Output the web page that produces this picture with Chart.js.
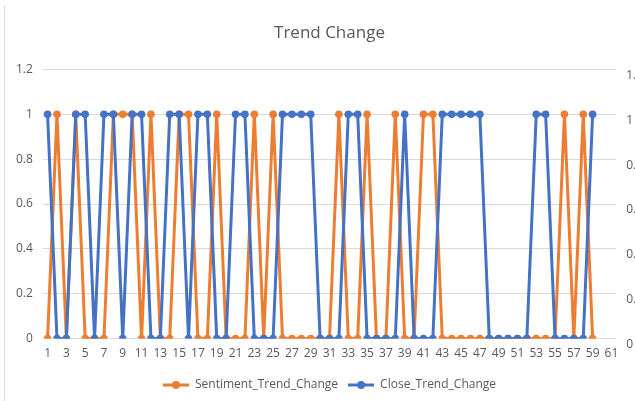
<!DOCTYPE html>
<html>
<head>
<meta charset="utf-8">
<title>Trend Change</title>
<script src="https://cdn.jsdelivr.net/npm/chart.js"></script>
<style>
    html, body {
        margin: 0;
        padding: 0;
        background: #fff;
        overflow: hidden;
        width: 635px;
        height: 401px;
    }
    .frame {
        position: absolute;
        left: 4px;
        top: 6px;
        width: 1px;
        height: 395px;
        background: #d9d9d9;
    }
    .chart-box {
        position: absolute;
        left: 0;
        top: 0;
        width: 667px;
        height: 401px;
    }
</style>
</head>
<body>
<div class="frame"></div>
<div class="chart-box"><canvas id="chartTrend"></canvas></div>

<script>
// categorias do eixo x (1..61)
const categorias = ['1','2','3','4','5','6','7','8','9','10','11','12','13','14','15','16','17','18','19','20',
    '21','22','23','24','25','26','27','28','29','30','31','32','33','34','35','36','37','38','39','40',
    '41','42','43','44','45','46','47','48','49','50','51','52','53','54','55','56','57','58','59','60','61'];

// séries (pontos 1..59)
const sentimentTrendChange = [0,1,0,1,0,0,0,1,1,1, 0,1,0,0,1,1,0,0,1,0,
    0,0,1,0,1,0,0,0,0,0, 0,1,0,0,1,0,0,1,0,0, 1,1,0,0,0,0,0,0,0,0,
    0,0,0,0,0,1,0,1,0];
const closeTrendChange = [1,0,0,1,1,0,1,1,0,1, 1,0,0,1,1,0,1,1,0,0,
    1,1,0,0,0,1,1,1,1,0, 0,0,1,1,0,0,0,0,1,0, 0,0,1,1,1,1,1,0,0,0,
    0,0,1,1,0,0,0,0,1];

const yMin = 0;
const yMax = 1.2;
const yStep = 0.2;

const corLaranja = '#ED7D31';
const corAzul = '#4472C4';
const corTexto = '#595959';
const corGrade = '#d9d9d9';
const fonte = '"Open Sans", "Noto Sans", sans-serif';

// marcador da legenda: linha com bolinha
function marcadorLegenda(cor) {
    const c = document.createElement('canvas');
    c.width = 26;
    c.height = 10;
    const ctx = c.getContext('2d');
    ctx.strokeStyle = cor;
    ctx.lineWidth = 3;
    ctx.beginPath();
    ctx.moveTo(0, 5);
    ctx.lineTo(26, 5);
    ctx.stroke();
    ctx.fillStyle = cor;
    ctx.beginPath();
    ctx.arc(13, 5, 4, 0, Math.PI * 2);
    ctx.fill();
    return c;
}

// 1.0 -> "1", 0.0 -> "0"
function formataTick(v) {
    return String(Number(v.toFixed(1)));
}

const eixoY = {
    min: yMin,
    max: yMax,
    border: { display: false },
    ticks: { stepSize: yStep, color: corTexto, padding: 10, font: { family: fonte, size: 12 }, callback: formataTick }
};

const ctx = document.getElementById('chartTrend').getContext('2d');
new Chart(ctx, {
    type: 'line',
    data: {
        labels: categorias,
        datasets: [{
            label: 'Sentiment_Trend_Change',
            data: sentimentTrendChange,
            borderColor: corLaranja,
            backgroundColor: corLaranja,
            borderWidth: 3,
            pointRadius: 3.8,
            pointBorderWidth: 0,
            pointStyle: 'circle',
            tension: 0,
            order: 2,
            yAxisID: 'y'
        }, {
            label: 'Close_Trend_Change',
            data: closeTrendChange,
            borderColor: corAzul,
            backgroundColor: corAzul,
            borderWidth: 3,
            pointRadius: 3.8,
            pointBorderWidth: 0,
            pointStyle: 'circle',
            tension: 0,
            order: 1,
            yAxisID: 'y'
        }]
    },
    options: {
        responsive: true,
        maintainAspectRatio: false,
        animation: false,
        layout: { padding: { left: 6, right: 14, top: 0, bottom: 0 } },
        plugins: {
            title: {
                display: true,
                text: 'Trend Change',
                color: corTexto,
                font: { family: fonte, size: 17, weight: 'normal' },
                padding: { top: 23, bottom: 26 }
            },
            legend: {
                position: 'bottom',
                labels: {
                    color: corTexto,
                    font: { family: fonte, size: 12 },
                    usePointStyle: true,
                    pointStyleWidth: 26,
                    padding: 10,
                    sort: (a, b) => a.datasetIndex - b.datasetIndex,
                    generateLabels: (chart) => chart.data.datasets.map((ds, i) => ({
                        text: ds.label,
                        fontColor: corTexto,
                        pointStyle: marcadorLegenda(ds.borderColor),
                        lineWidth: 0,
                        strokeStyle: 'transparent',
                        fillStyle: ds.borderColor,
                        hidden: !chart.isDatasetVisible(i),
                        datasetIndex: i
                    }))
                }
            },
            tooltip: { enabled: false }
        },
        scales: {
            x: {
                offset: true,
                grid: { display: false, drawTicks: false },
                border: { display: false },
                ticks: {
                    autoSkip: false,
                    maxRotation: 0,
                    color: corTexto,
                    padding: 8,
                    font: { family: fonte, size: 12 },
                    callback: function (v, i) { return i % 2 === 0 ? categorias[i] : ''; }
                }
            },
            y: Object.assign({}, eixoY, {
                position: 'left',
                grid: { color: corGrade, lineWidth: 1, drawTicks: false }
            }),
            y2: Object.assign({}, eixoY, {
                position: 'right',
                grid: { drawOnChartArea: false, drawTicks: false },
                ticks: Object.assign({}, eixoY.ticks, { align: 'start' })
            })
        }
    }
});
</script>
</body>
</html>
